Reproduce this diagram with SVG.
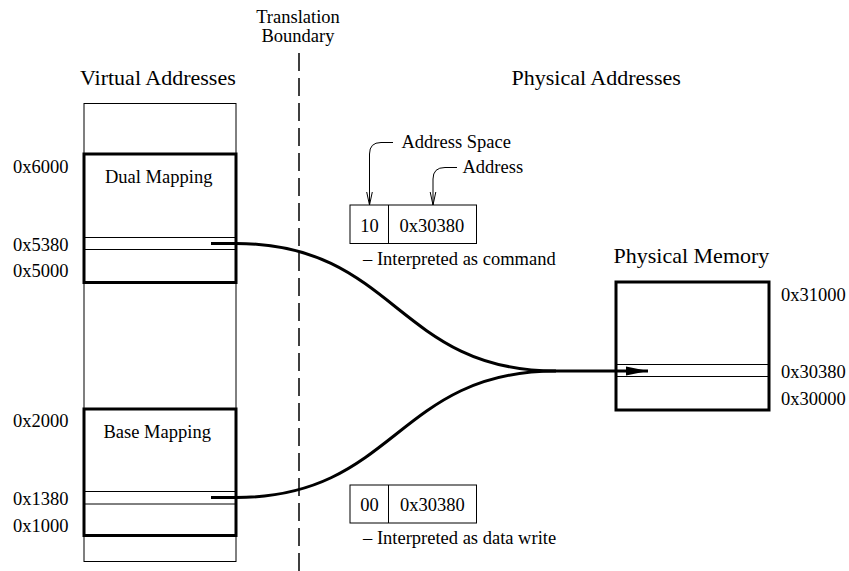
<svg xmlns="http://www.w3.org/2000/svg" width="849" height="571" viewBox="0 0 849 571">
  <defs>
    <style>
      text { font-family: "Liberation Serif", "Times New Roman", serif; fill: #000; }
      .t { font-size: 18.5px; }
      .h { font-size: 22px; }
      .thin { fill: none; stroke: #000; stroke-width: 1; }
      .thick { fill: none; stroke: #000; stroke-width: 3; }
      .wire { fill: none; stroke: #000; stroke-width: 3; }
      .lead { fill: none; stroke: #000; stroke-width: 1; }
    </style>
    <marker id="solid" markerUnits="userSpaceOnUse" markerWidth="26" markerHeight="12" refX="22" refY="5" orient="auto">
      <path d="M0,0.5 L22,5 L0,9.5 Z" fill="#000"/>
    </marker>
    <marker id="open" markerUnits="userSpaceOnUse" markerWidth="10" markerHeight="16" refX="4" refY="14" orient="0">
      <path d="M1.2,1 L4,14 L6.8,1" fill="none" stroke="#000" stroke-width="1"/>
    </marker>
  </defs>

  <rect width="849" height="571" fill="#fff"/>

  <!-- headings -->
  <g id="headings">
    <text class="t" x="298" y="23" text-anchor="middle">Translation</text>
    <text class="t" x="298" y="42" text-anchor="middle">Boundary</text>
    <text class="h" x="80" y="85">Virtual Addresses</text>
    <text class="h" x="511.5" y="85">Physical Addresses</text>
  </g>

  <!-- translation boundary -->
  <g id="boundary">
    <line x1="299" y1="53" x2="299" y2="571" stroke="#000" stroke-width="1.5" stroke-dasharray="18,7"/>
  </g>

  <!-- virtual address space -->
  <g id="virtual-space">
    <rect class="thin" x="84" y="103.5" width="152" height="458"/>
  </g>

  <g id="dual-mapping">
    <rect class="thick" x="84" y="154" width="152" height="128.5"/>
    <line class="thin" x1="84" y1="237.5" x2="236" y2="237.5"/>
    <line class="thin" x1="84" y1="249.5" x2="236" y2="249.5" stroke="#555"/>
    <text class="t" x="105" y="182.5">Dual Mapping</text>
    <text class="t" x="13" y="172.5">0x6000</text>
    <text class="t" x="13" y="250.5">0x5380</text>
    <text class="t" x="13" y="277">0x5000</text>
  </g>

  <g id="base-mapping">
    <rect class="thick" x="84" y="409" width="152" height="126.5"/>
    <line class="thin" x1="84" y1="491.5" x2="236" y2="491.5"/>
    <line class="thin" x1="84" y1="504" x2="236" y2="504"/>
    <text class="t" x="103.5" y="437.5">Base Mapping</text>
    <text class="t" x="13" y="426.5">0x2000</text>
    <text class="t" x="13" y="505">0x1380</text>
    <text class="t" x="13" y="531.5">0x1000</text>
  </g>

  <!-- physical memory -->
  <g id="physical-memory">
    <text class="h" x="613.5" y="263">Physical Memory</text>
    <rect class="thick" x="616" y="282" width="153" height="128"/>
    <line class="thin" x1="616" y1="364.5" x2="769" y2="364.5"/>
    <line class="thin" x1="616" y1="376.5" x2="769" y2="376.5" stroke="#555"/>
    <text class="t" x="781" y="301">0x31000</text>
    <text class="t" x="781" y="378">0x30380</text>
    <text class="t" x="781" y="405">0x30000</text>
  </g>

  <!-- command-space address -->
  <g id="command-address">
    <rect class="thin" x="350" y="205" width="126.5" height="38.5"/>
    <line class="thin" x1="388.5" y1="205" x2="388.5" y2="243.5"/>
    <text class="t" x="369.5" y="231.5" text-anchor="middle">10</text>
    <text class="t" x="399.5" y="231.5">0x30380</text>
    <text class="t" x="363" y="265">– Interpreted as command</text>
    <text class="t" x="401.5" y="148">Address Space</text>
    <text class="t" x="462.5" y="173">Address</text>
  </g>

  <!-- data-space address -->
  <g id="data-address">
    <rect class="thin" x="350" y="485" width="126.5" height="38"/>
    <line class="thin" x1="388.5" y1="485" x2="388.5" y2="523"/>
    <text class="t" x="369.5" y="510.5" text-anchor="middle">00</text>
    <text class="t" x="400" y="510.5">0x30380</text>
    <text class="t" x="363" y="544">– Interpreted as data write</text>
  </g>

  <!-- connectors -->
  <g id="connectors">
    <path class="wire" d="M211,243.5 H236 C396,243.5 396,371 556,371"/>
    <path class="wire" d="M211,497.5 H236 C396,497.5 396,371 556,371"/>
    <path class="wire" d="M556,371 H648" marker-end="url(#solid)"/>
    <path class="lead" d="M393,142.5 H381 Q369.5,142.5 369.5,154 V205" marker-end="url(#open)"/>
    <path class="lead" d="M457,167.5 H445 Q433,167.5 433,179 V205" marker-end="url(#open)"/>
  </g>
</svg>
